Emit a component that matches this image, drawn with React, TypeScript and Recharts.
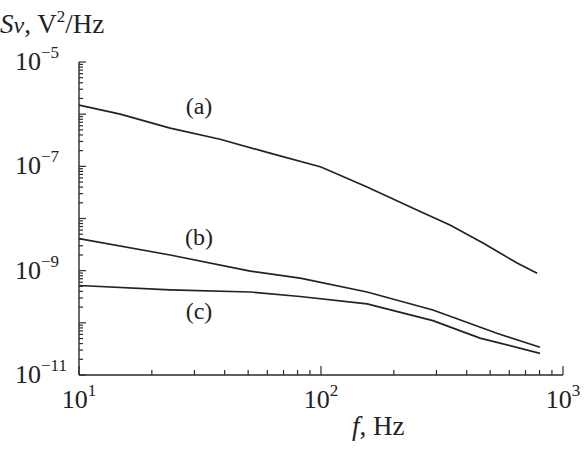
import { LineChart, Line, XAxis, YAxis } from 'recharts';

// curve (a)
const freqA = [10, 14.8, 23.8, 38.3, 61.5, 100, 155, 249, 341, 467, 646, 782];
const valsA = [1.49e-6, 1.0e-6, 5.4e-7, 3.3e-7, 1.79e-7, 9.7e-8, 4.0e-8, 1.45e-8, 7.5e-9, 3.4e-9, 1.4e-9, 8.9e-10];

// curve (b)
const freqB = [10, 23.8, 51, 82, 155, 290, 533, 803];
const valsB = [4.1e-9, 2.0e-9, 9.8e-10, 7.2e-10, 3.9e-10, 1.76e-10, 6.3e-11, 3.4e-11];

// curve (c)
const freqC = [10, 23.8, 51, 82, 155, 290, 454, 803];
const valsC = [5.2e-10, 4.3e-10, 3.9e-10, 3.2e-10, 2.3e-10, 1.1e-10, 5.1e-11, 2.6e-11];

const seriesLabels = ['(a)', '(b)', '(c)'];

// axis ticks
const yExps = [-11, -10, -9, -8, -7, -6, -5];
const yLabelExps = [-11, -9, -7, -5];
const xExps = [1, 2];
const xLabelExps = [1, 2, 3];
const mantissas = [1, 2, 3, 4, 5, 6, 7, 8, 9];

const yTicks = yExps.flatMap((e) => mantissas.map((m) => m * Math.pow(10, e))).filter((v) => v <= 1.0000001e-5);
const xTicks = [...xExps.flatMap((e) => mantissas.map((m) => m * Math.pow(10, e))), 1000];

const toRows = (fs: number[], vs: number[]) => fs.map((f, i) => ({ f, v: vs[i] }));
const dataA = toRows(freqA, valsA);
const dataB = toRows(freqB, valsB);
const dataC = toRows(freqC, valsC);

const FONT = 'Liberation Serif, Times New Roman, Times, serif';
const INK = '#2a2a2a';

const isDecade = (v: number) => {
  const e = Math.round(Math.log10(v));
  return { e, major: Math.abs(v - Math.pow(10, e)) / v < 1e-6 };
};

const YTick = (props: any) => {
  const { x, y, payload } = props;
  const { e, major } = isDecade(payload.value);
  const show = major && yLabelExps.includes(e);
  return (
    <g>
      <line x1={x} x2={x + (major ? 7 : 4)} y1={y} y2={y} stroke={INK} strokeWidth={1.2} />
      {show && (
        <text x={15} y={y + 8} fontFamily={FONT} fontSize={26} fill="#222">
          10
          <tspan dy={-12} fontSize={17}>
            {'\u2212' + -e}
          </tspan>
        </text>
      )}
    </g>
  );
};

const XTick = (props: any) => {
  const { x, y, payload } = props;
  const { e, major } = isDecade(payload.value);
  const show = major && xLabelExps.includes(e);
  return (
    <g>
      <line x1={x} x2={x} y1={y} y2={y - (major ? 9 : 5)} stroke={INK} strokeWidth={1.2} />
      {show && (
        <text x={x} y={y + 33} textAnchor="middle" fontFamily={FONT} fontSize={26} fill="#222">
          10
          <tspan dy={-12} fontSize={17}>
            {e}
          </tspan>
        </text>
      )}
    </g>
  );
};

const App = () => (
  <div style={{ position: 'absolute', left: 0, top: 0, width: 586, height: 459, background: '#fff' }}>
    <LineChart width={586} height={459} margin={{ top: 62, right: 23, left: 0, bottom: 0 }}>
      <XAxis
        dataKey="f"
        type="number"
        scale="log"
        domain={[10, 1000]}
        ticks={xTicks}
        interval={0}
        allowDataOverflow
        height={84}
        tickSize={0}
        tickMargin={0}
        tick={<XTick />}
        axisLine={{ stroke: INK, strokeWidth: 1.4 }}
        tickLine={false}
      />
      <YAxis
        dataKey="v"
        type="number"
        scale="log"
        domain={[1e-11, 1e-5]}
        ticks={yTicks}
        interval={0}
        allowDataOverflow
        width={79}
        tickSize={0}
        tickMargin={0}
        tick={<YTick />}
        axisLine={{ stroke: INK, strokeWidth: 1.4 }}
        tickLine={false}
      />
      <Line data={dataA} dataKey="v" type="linear" stroke="#222" strokeWidth={1.7} dot={false} isAnimationActive={false} />
      <Line data={dataB} dataKey="v" type="linear" stroke="#222" strokeWidth={1.7} dot={false} isAnimationActive={false} />
      <Line data={dataC} dataKey="v" type="linear" stroke="#222" strokeWidth={1.7} dot={false} isAnimationActive={false} />
    </LineChart>
    <svg width={586} height={459} style={{ position: 'absolute', left: 0, top: 0, pointerEvents: 'none' }}>
      <text x={0} y={33} fontFamily={FONT} fontSize={27} fill="#222">
        <tspan fontStyle="italic">S</tspan>
        <tspan fontStyle="italic" fontSize={24}>v</tspan>
        <tspan>, V</tspan>
        <tspan dy={-11} fontSize={17}>2</tspan>
        <tspan dy={11}>/Hz</tspan>
      </text>
      <text x={352} y={435} fontFamily={FONT} fontSize={27} fill="#222">
        <tspan fontStyle="italic">f</tspan>, Hz
      </text>
      <text x={199} y={114} textAnchor="middle" fontFamily={FONT} fontSize={24} fill="#222">{seriesLabels[0]}</text>
      <text x={199} y={245} textAnchor="middle" fontFamily={FONT} fontSize={24} fill="#222">{seriesLabels[1]}</text>
      <text x={199} y={319} textAnchor="middle" fontFamily={FONT} fontSize={24} fill="#222">{seriesLabels[2]}</text>
    </svg>
  </div>
);

export default App;
